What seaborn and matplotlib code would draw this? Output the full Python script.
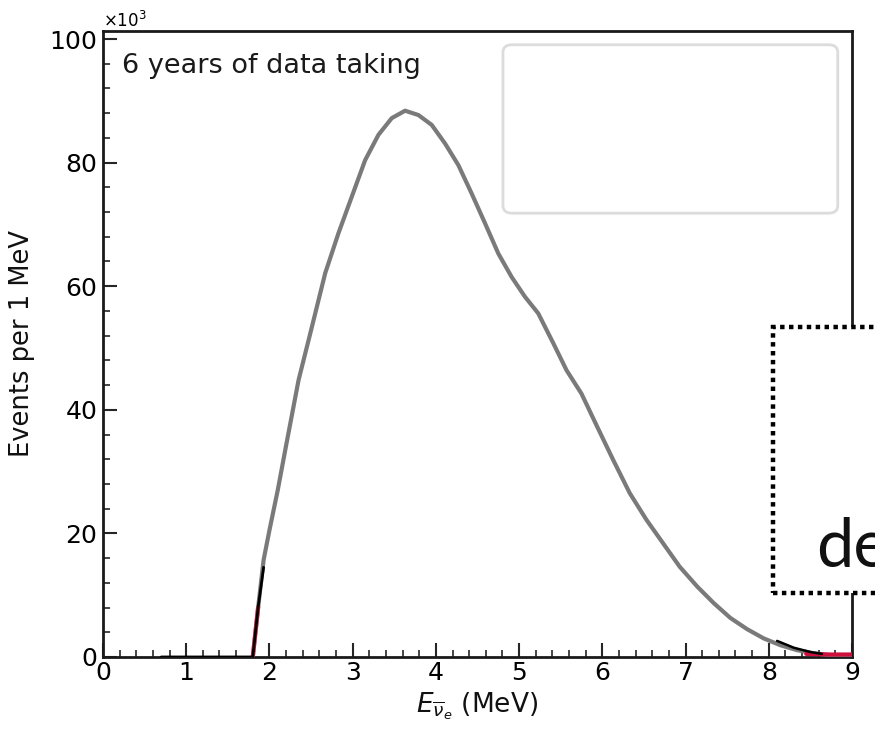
import matplotlib
matplotlib.use("Agg")
import matplotlib.pyplot as plt
from matplotlib.patches import FancyBboxPatch, Rectangle
from matplotlib.ticker import ScalarFormatter, MultipleLocator
import pandas as pd
import seaborn as sns

# Reactor antineutrino spectrum (events per 1 MeV) after 6 years
energy_mev = [1.80, 1.865, 1.93, 2.00, 2.10, 2.20, 2.35, 2.51, 2.67, 2.83, 2.99,
              3.15, 3.31, 3.47, 3.63, 3.79, 3.95, 4.11, 4.27, 4.43, 4.59, 4.75,
              4.91, 5.07, 5.23, 5.41, 5.57, 5.75, 5.93, 6.13, 6.33, 6.53, 6.73,
              6.93, 7.14, 7.34, 7.54, 7.74, 7.94, 8.14, 8.34, 8.54, 8.74, 9.00]
events = [0, 8100, 15700, 20500, 27000, 34200, 44800, 53400, 62100, 68600, 74500,
          80400, 84500, 87200, 88400, 87700, 86100, 83100, 79600, 75000, 70200, 65300,
          61500, 58300, 55600, 50800, 46400, 42600, 37500, 31900, 26500, 22200, 18400,
          14600, 11400, 8700, 6300, 4500, 3000, 1900, 1100, 600, 300, 100]

# background components that show near the threshold and in the tail
bkg_black_e = [0.70, 1.80, 1.865, 1.93]
bkg_black_n = [0, 0, 8100, 14500]
tail_black_e = [8.10, 8.30, 8.50, 8.64]
tail_black_n = [2600, 1500, 800, 500]
bkg_red_e = [1.80, 1.865]
bkg_red_n = [0, 8100]
tail_red_e = [8.45, 8.70, 9.00]
tail_red_n = [500, 400, 400]

x_ticks = [0, 1, 2, 3, 4, 5, 6, 7, 8, 9]
y_ticks = [0, 20000, 40000, 60000, 80000, 100000]

sns.set_style("ticks")
plt.rcParams["font.family"] = ["DejaVu Sans"]
plt.rcParams["mathtext.fontset"] = "dejavusans"

fig = plt.figure(figsize=(8.75, 7.38), dpi=100)
ax = fig.add_axes([0.1177, 0.1098, 0.8560, 0.8482])

df = pd.DataFrame({"E": energy_mev, "N": events})
sns.lineplot(data=df, x="E", y="N", ax=ax, color="#7a7a7a", lw=3.0, zorder=3,
             solid_joinstyle="round", solid_capstyle="round")
sns.lineplot(x=bkg_red_e, y=bkg_red_n, ax=ax, color="#e0204a", lw=3.0, zorder=4)
sns.lineplot(x=bkg_black_e, y=bkg_black_n, ax=ax, color="black", lw=2.0, zorder=5)
sns.lineplot(x=tail_red_e, y=tail_red_n, ax=ax, color="#d0103c", lw=3.0, zorder=4)
sns.lineplot(x=tail_black_e, y=tail_black_n, ax=ax, color="black", lw=1.8, zorder=5)

ax.set_xlim(0, 9)
ax.set_ylim(0, 101300)
ax.set_xticks(x_ticks)
ax.set_yticks(y_ticks)
ax.xaxis.set_minor_locator(MultipleLocator(0.2))
ax.yaxis.set_minor_locator(MultipleLocator(4000))

fmt = ScalarFormatter(useMathText=True)
fmt.set_powerlimits((3, 3))
ax.yaxis.set_major_formatter(fmt)
ax.yaxis.get_offset_text().set_fontsize(12)
ax.yaxis.get_offset_text().set_color("black")

ax.tick_params(axis="both", which="major", direction="in", length=10, width=1.5,
               labelsize=18, labelcolor="black", top=False, right=False)
ax.tick_params(axis="both", which="minor", direction="in", length=5, width=1.2,
               top=False, right=False)
ax.tick_params(axis="x", pad=3)
ax.tick_params(axis="y", pad=4)

for side in ["left", "bottom", "right", "top"]:
    ax.spines[side].set_linewidth(2.0)
    ax.spines[side].set_color("#1a1a1a")

ax.set_xlabel(r"$E_{\overline{\nu}_e}$ (MeV)", fontsize=19, labelpad=4, color="#111111")
ax.set_ylabel("Events per 1 MeV", fontsize=18.5, labelpad=10, color="#111111")

ax.text(0.025, 0.965, "6 years of data taking", transform=ax.transAxes,
        fontsize=19.5, ha="left", va="top", color="#1a1a1a")

# empty legend frame
legend_frame = FancyBboxPatch((0.534, 0.709), 0.447, 0.269,
                              boxstyle="round,pad=0,rounding_size=0.012",
                              transform=ax.transAxes, facecolor="none",
                              edgecolor="#dcdcdc", lw=2.0, zorder=2)
ax.add_patch(legend_frame)

# dotted call-out box on the right edge; its caption runs past the figure edge
callout = Rectangle((0.8835, 0.1965), 0.2, 0.3605, transform=fig.transFigure,
                    facecolor="white", edgecolor="black", lw=3.2,
                    linestyle=(0, (1, 1)), clip_on=False, zorder=10)
fig.add_artist(callout)
fig.text(0.933, 0.232, "de", fontsize=48, family=["Lato", "DejaVu Sans"],
         fontweight="normal", ha="left", va="baseline", color="#111111", zorder=11)

fig.savefig("out.png", dpi=100)
